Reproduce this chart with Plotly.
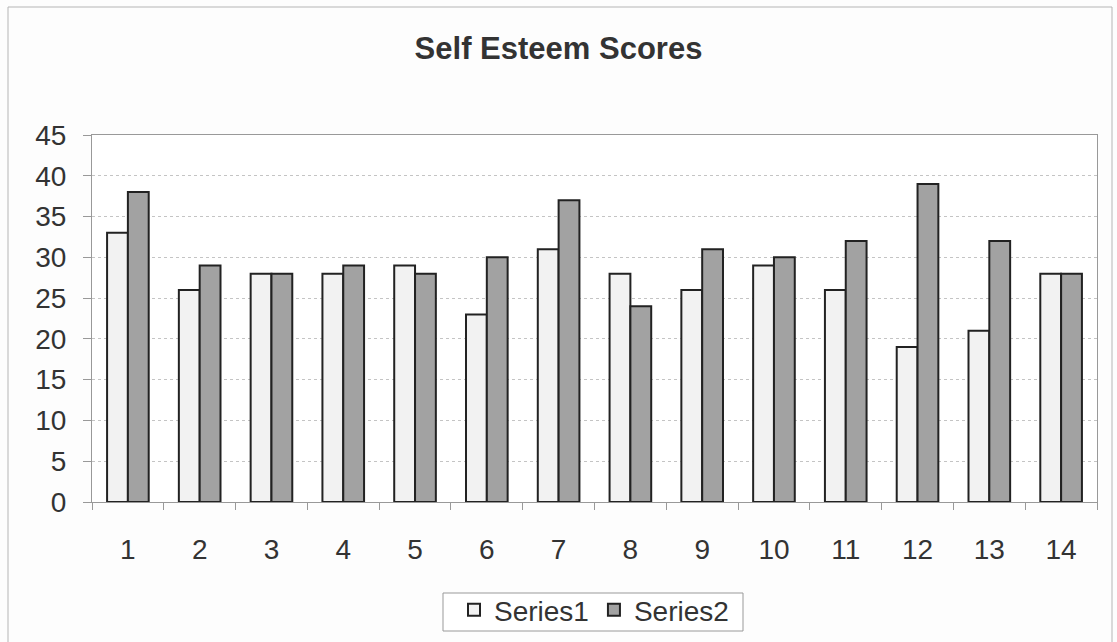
import plotly.graph_objects as go

# Self esteem scores per participant, two measurement series
participants = [str(i) for i in range(1, 15)]
series1 = [33, 26, 28, 28, 29, 23, 31, 28, 26, 29, 26, 19, 21, 28]
series2 = [38, 29, 28, 29, 28, 30, 37, 24, 31, 30, 32, 39, 32, 28]
y_ticks = list(range(0, 50, 5))

W, H = 1117, 642
L, R, T, B = 92, 20, 135, 140

fig = go.Figure()
fig.add_trace(go.Bar(
    x=participants, y=series1, name="Series1",
    marker=dict(color="#f2f2f2", line=dict(color="#222222", width=2)),
))
fig.add_trace(go.Bar(
    x=participants, y=series2, name="Series2",
    marker=dict(color="#a2a2a2", line=dict(color="#222222", width=2)),
))

font = "Liberation Sans, Arial, sans-serif"

# pixel -> plot-area paper coordinates
pw, ph = W - L - R, H - T - B
def px_x(x):
    return (x - L) / pw
def px_y(y):
    return (H - B - y) / ph

# outer chart frame
fig.add_shape(type="rect", xref="paper", yref="paper",
              x0=px_x(8), x1=px_x(1112), y0=px_y(660), y1=px_y(7),
              line=dict(color="#b5b5b5", width=1), fillcolor="rgba(0,0,0,0)",
              layer="below")
# legend frame
fig.add_shape(type="rect", xref="paper", yref="paper",
              x0=px_x(443), x1=px_x(743), y0=px_y(631), y1=px_y(593),
              line=dict(color="#999999", width=1), fillcolor="#ffffff",
              layer="below")

fig.update_layout(
    width=W, height=H,
    margin=dict(l=L, r=R, t=T, b=B, autoexpand=False),
    paper_bgcolor="#fdfdfd", plot_bgcolor="#ffffff",
    barmode="group", bargap=0.42, bargroupgap=0,
    title=dict(text="<b>Self Esteem Scores</b>", x=0.5, xanchor="center",
               y=1 - 48 / H, yanchor="middle",
               font=dict(family=font, size=31, color="#333333")),
    font=dict(family=font, size=28, color="#333333"),
    legend=dict(orientation="h", x=px_x(594), xanchor="center",
                y=px_y(585), yanchor="top",
                borderwidth=0, bgcolor="rgba(0,0,0,0)",
                font=dict(size=28, color="#333333"),
                traceorder="normal", itemwidth=30, tracegroupgap=0),
    xaxis=dict(type="category", showgrid=False,
               showline=True, linecolor="#999999", linewidth=1, mirror=True,
               ticks="outside", ticklen=7, tickcolor="#999999",
               tickson="boundaries", ticklabelstandoff=22,
               tickfont=dict(size=28, color="#333333")),
    yaxis=dict(range=[0, 45], tickvals=y_ticks, showgrid=True,
               gridcolor="#c4c4c4", gridwidth=1, griddash="dot",
               showline=True, linecolor="#999999", linewidth=1, mirror=True,
               ticks="outside", ticklen=8, tickcolor="#999999",
               zeroline=False, ticklabelstandoff=11,
               tickfont=dict(size=28, color="#333333")),
)

fig.write_html("out.html")
